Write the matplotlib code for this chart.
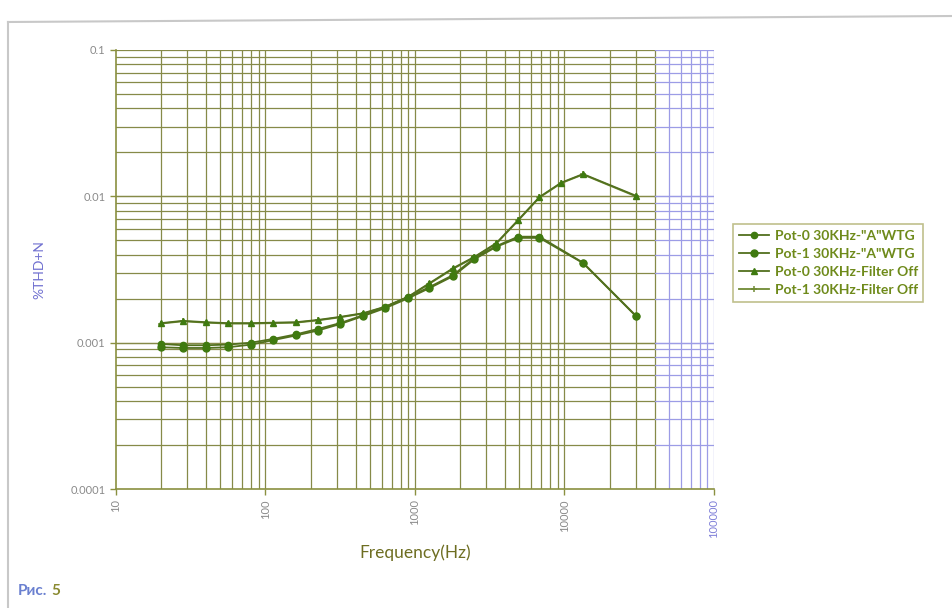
import numpy as np
import matplotlib
matplotlib.use("Agg")
import matplotlib.pyplot as plt
from matplotlib.lines import Line2D

plt.rcParams['font.family'] = ['Lato', 'DejaVu Sans']

# ---- data ----
freq = [20, 28, 40, 56, 80, 112, 160, 224, 315, 450, 630, 900, 1250,
        1800, 2500, 3500, 4900, 6800, 9500, 13300, 30000]
nan = np.nan
pot0_a = [0.00098, 0.00096, 0.00096, 0.00097, 0.00100, 0.00106, 0.00114,
          0.00124, 0.00136, 0.00154, 0.00175, 0.00205, 0.00240, 0.00290,
          0.00379, 0.00457, 0.00530, 0.00530, nan, 0.00352, 0.00153]
pot1_a = [0.00093, 0.00092, 0.00092, 0.00093, 0.00097, 0.00104, 0.00112,
          0.00121, 0.00134, 0.00152, 0.00172, 0.00201, 0.00236, 0.00285,
          0.00372, 0.00452, 0.00520, 0.00520, nan, 0.00350, 0.00152]
pot0_off = [0.00136, 0.00141, 0.00138, 0.00136, 0.00136, 0.00137, 0.00138,
            0.00143, 0.00150, 0.00159, 0.00176, 0.00206, 0.00255, 0.00323,
            0.00386, 0.00479, 0.00689, 0.00989, 0.01239, 0.01420, 0.01010]
pot1_off = [0.00135, 0.00140, 0.00137, 0.00135, 0.00135, 0.00136, 0.00137,
            0.00142, 0.00149, 0.00158, 0.00175, 0.00205, 0.00253, 0.00320,
            0.00383, 0.00475, 0.00684, 0.00982, 0.01230, 0.01410, 0.01000]
labels = ['Pot-0 30KHz-"A"WTG', 'Pot-1 30KHz-"A"WTG',
          'Pot-0 30KHz-Filter Off', 'Pot-1 30KHz-Filter Off']
x_ticks = [10, 100, 1000, 10000, 100000]
x_ticklabels = ['10', '100', '1000', '10000', '100000']
y_ticks = [0.0001, 0.001, 0.01, 0.1]
y_ticklabels = ['0.0001', '0.001', '0.01', '0.1']

W, H = 953, 608
fig = plt.figure(figsize=(W / 100, H / 100), dpi=100)
fig.patch.set_facecolor('white')

L, R, T, B = 116, 714, 50, 489
ax = fig.add_axes([L / W, 1 - B / H, (R - L) / W, (B - T) / H])
ax.set_xscale('log')
ax.set_yscale('log')
ax.set_xlim(10, 100000)
ax.set_ylim(0.0001, 0.1)

green = '#868a48'
blue = '#9c9ce6'
split = 40000

# grid
for d in [10, 100, 1000, 10000]:
    for k in range(1, 10):
        xv = k * d
        if xv == 10:
            continue
        ax.axvline(xv, color=green if xv <= split else blue, lw=0.9, zorder=1)
ax.axvline(100000, color=blue, lw=0.9, zorder=1)
for d in [0.0001, 0.001, 0.01]:
    for k in range(1, 11):
        yv = k * d
        if yv <= 0.0001:
            continue
        ax.plot([10, split], [yv, yv], color=green, lw=0.9, zorder=1)
        ax.plot([split, 100000], [yv, yv], color=blue, lw=0.9, zorder=1)

line_c = '#52701e'
mk_c = '#3f7a10'
f = np.array(freq, float)

def draw(vals, marker, ms, lab, color=line_c, mcol=mk_c, mew=1.0):
    v = np.array(vals, float)
    m = ~np.isnan(v)
    ax.plot(f[m], v[m], color=color, lw=1.3, marker=marker, ms=ms,
            mfc=mcol, mec=mcol, mew=mew, label=lab, zorder=3)

draw(pot1_off, '+', 5, labels[3], color='#6f8a34', mcol='#6f8a34', mew=1.1)
draw(pot0_off, '^', 4.5, labels[2])
draw(pot1_a, 'o', 5, labels[1])
draw(pot0_a, 'o', 4.5, labels[0])

for s in ['top', 'right']:
    ax.spines[s].set_visible(False)
for s in ['left', 'bottom']:
    ax.spines[s].set_color('#8a9040')
    ax.spines[s].set_linewidth(1.2)

ax.set_xticks(x_ticks)
ax.set_xticklabels(x_ticklabels, rotation=90, fontsize=8, color='#8a8a8a')
ax.get_xticklabels()[-1].set_color('#8080d8')
ax.set_yticks(y_ticks)
ax.set_yticklabels(y_ticklabels, fontsize=8, color='#8a8a8a')
ax.tick_params(axis='both', which='major', length=4, color='#8a9040', width=1)
ax.tick_params(axis='both', which='minor', length=0)

ax.set_xlabel('Frequency(Hz)', fontsize=12.5, color='#6e6e22', labelpad=4)
ax.set_ylabel('%THD+N', fontsize=10, color='#7070d0', labelpad=18)

handles, labs = ax.get_legend_handles_labels()
order = [labs.index(l) for l in labels]
leg = fig.legend([handles[i] for i in order], [labs[i] for i in order],
                 loc='upper left', bbox_to_anchor=(733 / W, 1 - 224 / H),
                 prop={'size': 10, 'weight': 'bold'}, frameon=True,
                 fancybox=False, borderpad=0.4,
                 handlelength=2.2, handletextpad=0.4, labelspacing=0.45,
                 borderaxespad=0)
leg.get_frame().set_edgecolor('#b0b070')
leg.get_frame().set_linewidth(1.2)
for t in leg.get_texts():
    t.set_color('#6e8a1a')

# frame of the printed figure
fig.add_artist(Line2D([8 / W, 8 / W], [0, 1 - 22 / H], color='#c8c8c8', lw=1.5))
fig.add_artist(Line2D([8 / W, 1], [1 - 22 / H, 1 - 16 / H], color='#c8c8c8', lw=1.5))

# caption
t1 = fig.text(18 / W, 1 - 595 / H, 'Рис.', fontsize=11, fontweight='bold', color='#6a80d0')
fig.canvas.draw()
bb = t1.get_window_extent()
fig.text((bb.x1 + 4) / W, 1 - 595 / H, '5', fontsize=11, fontweight='bold', color='#8a8a30')

fig.savefig('out.png', dpi=100)
